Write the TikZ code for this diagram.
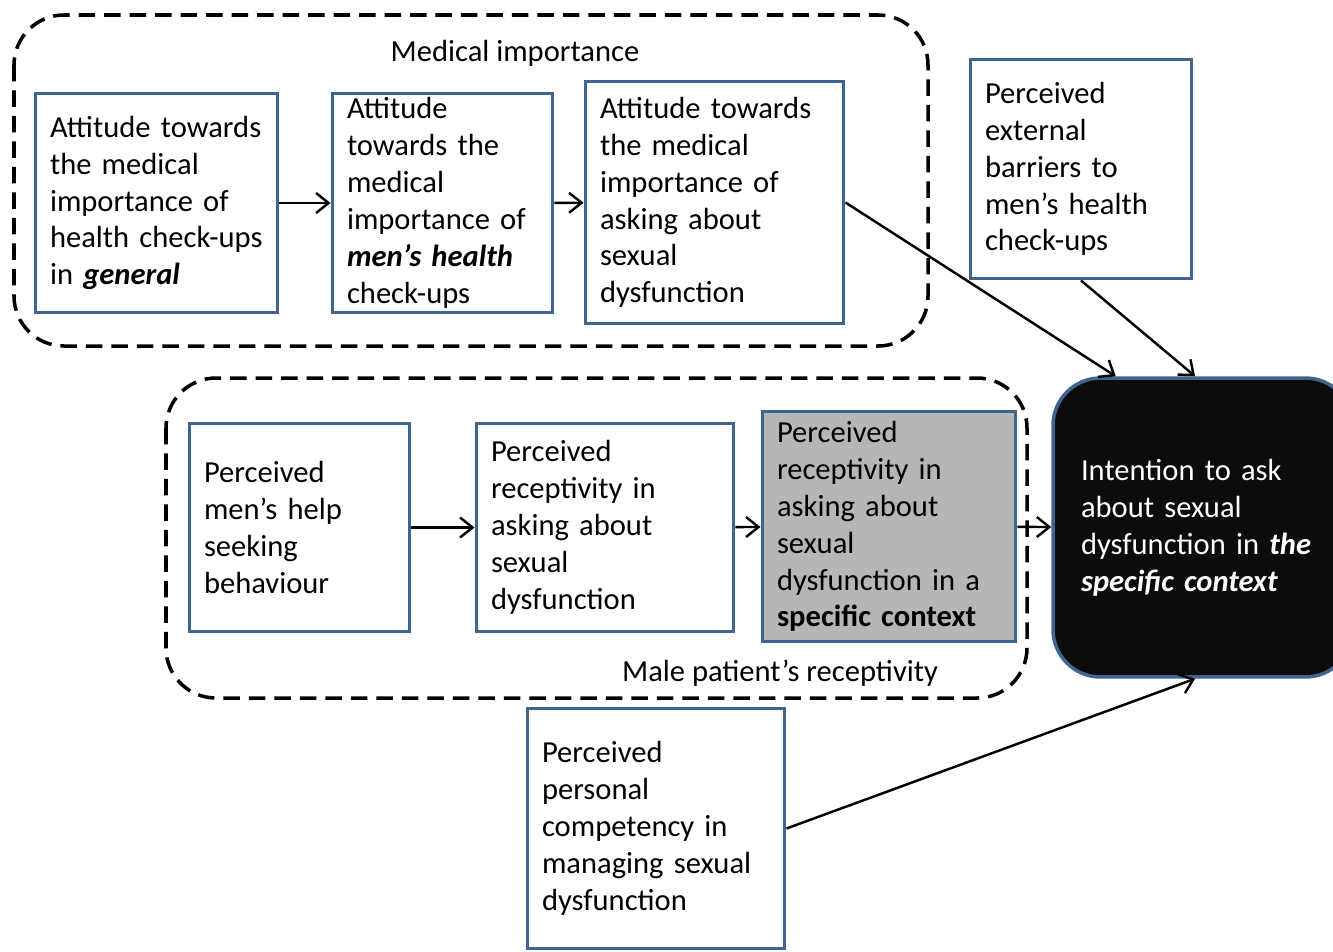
\documentclass[tikz,border=0pt]{standalone}
\usepackage{fontspec}
\setmainfont{Carlito}
\usepackage{tikz}
\usetikzlibrary{arrows.meta}
\definecolor{boxblue}{HTML}{41648F}
\definecolor{boxgrey}{HTML}{B5B6B8}
\definecolor{boxblack}{HTML}{0C0C0C}
\tikzstyle{factor} = [rectangle, draw=boxblue, line width=1.7pt, fill=white, inner xsep=0.3cm, inner ysep=0pt, align=left, font=\fontsize{17.4}{21}\selectfont]
\tikzstyle{context} = [factor, fill=boxgrey]
\tikzstyle{outcome} = [rectangle, rounded corners=0.95cm, draw=boxblue, line width=2pt, fill=boxblack, text=white, inner xsep=0.56cm, inner ysep=0pt, align=left, font=\fontsize{17.4}{21}\selectfont]
\tikzstyle{groupbox} = [draw=black, line width=2pt, dash pattern=on 0.33cm off 0.18cm, rounded corners=1cm]
\tikzstyle{grouptitle} = [font=\fontsize{17.4}{21}\selectfont]
\tikzstyle{arrow} = [line width=1.4pt, -{Straight Barb[length=0.25cm,width=0.4cm]}]

\begin{document}
\begin{tikzpicture}[x=0.02cm, y=-0.02cm]
\useasboundingbox (0,0) rectangle (1333,951);
\draw [groupbox] (14,15) rectangle (928,346);
\draw [groupbox] (166,378) rectangle (1027,698);
\node (medtitle) [grouptitle] at (515,53) {Medical importance};
\node (rectitle) [grouptitle] at (780,673) {Male patient’s receptivity};

\node (general) [factor, text width=4.26cm, minimum height=4.4cm] at (156.5,203) {Attitude towards\\ the medical\\ importance of\\ health check-ups\\ in \textbf{\textit{general}}};
\node (menhealth) [factor, text width=3.82cm, minimum height=4.4cm] at (442.5,203) {Attitude\\ towards the\\ medical\\ importance of\\ \textbf{\textit{men’s health}}\\ check-ups};
\node (asking) [factor, text width=4.58cm, minimum height=4.86cm] at (714.5,202.5) {Attitude towards\\ the medical\\ importance of\\ asking about\\ sexual\\ dysfunction};
\node (barriers) [factor, text width=3.84cm, minimum height=4.4cm] at (1081,169) {Perceived\\ external\\ barriers to\\ men’s health\\ check-ups};

\node (helpseek) [factor, text width=3.82cm, minimum height=4.18cm] at (299.5,527.5) {Perceived\\ men’s help\\ seeking\\ behaviour};
\node (recept) [factor, text width=4.56cm, minimum height=4.18cm] at (605,527.5) {Perceived\\ receptivity in\\ asking about\\ sexual\\ dysfunction};
\node (specific) [context, text width=4.48cm, minimum height=4.62cm] at (889,526.5) {Perceived\\ receptivity in\\ asking about\\ sexual\\ dysfunction in a\\ \textbf{specific context}};
\node (intention) [outcome, text width=4.88cm, minimum height=5.98cm] at (1203,527.5) {Intention to ask\\ about sexual\\ dysfunction in \textbf{\textit{the}}\\ \textbf{\textit{specific context}}};

\node (competency) [factor, text width=4.56cm, minimum height=4.82cm] at (656,828.5) {Perceived\\ personal\\ competency in\\ managing sexual\\ dysfunction};

\draw [arrow] (general) -- (menhealth);
\draw [arrow] (menhealth) -- (asking);
\draw [arrow] (helpseek) -- (recept);
\draw [arrow] (recept) -- (specific);
\draw [arrow] (specific) -- (intention);
\draw [arrow] (asking.east) -- (intention.120);
\draw [arrow] (barriers.south) -- (intention.93);
\draw [arrow] (competency.east) -- (intention.267);
\end{tikzpicture}
\end{document}
